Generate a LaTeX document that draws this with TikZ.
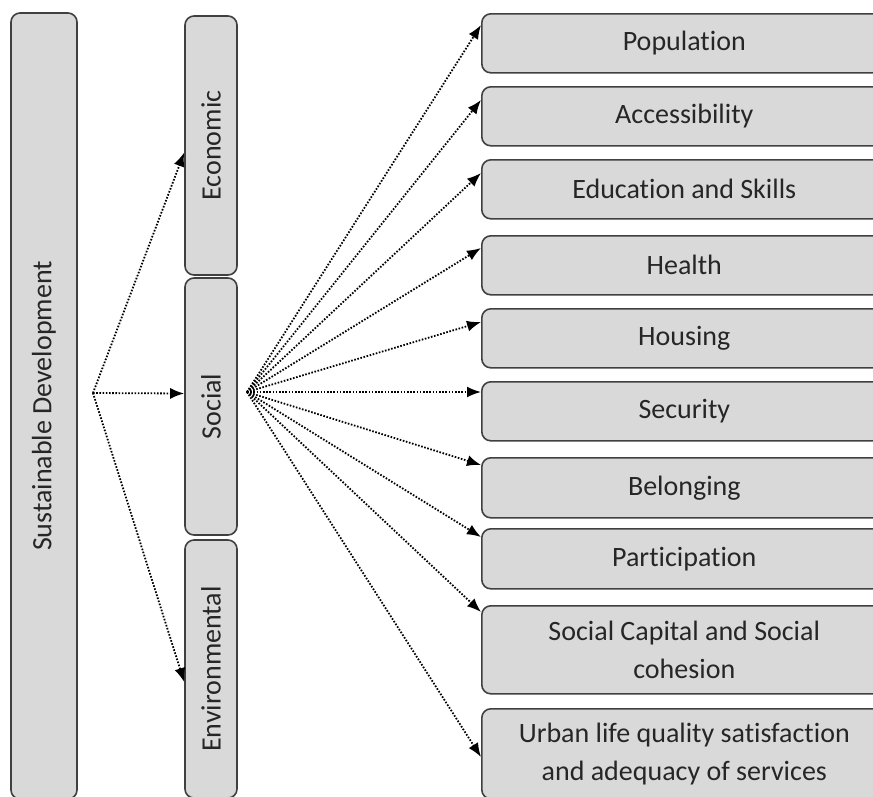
\documentclass[tikz,border=0pt]{standalone}
\usepackage{fontspec}
\setmainfont{Carlito}[Ligatures=NoCommon]
\usetikzlibrary{arrows.meta}
\tikzset{
  box/.style={draw=black!75, line width=1.6pt, fill=gray!30, rounded corners=9pt,
    text=black!85, font=\fontsize{28}{38}\selectfont, align=center, inner sep=0pt},
  vbox/.style={box, rotate=90, minimum height=52pt},
  rbox/.style={box, anchor=north west, minimum width=405pt, minimum height=59pt},
  link/.style={dash pattern=on 1.6pt off 1.6pt, line width=1.8pt, -{Latex[length=14pt,width=11pt]}},
}

\begin{document}
\begin{tikzpicture}[x=1pt,y=-1pt]
  \useasboundingbox (0,0) rectangle (873,796);
  \clip (0,0) rectangle (873,796);

  % left columns
  \node[vbox, minimum width=786pt, minimum height=66pt] (sd) at (44,406) {Sustainable Development};
  \node[vbox, minimum width=259pt] (eco) at (211,145.5) {Economic};
  \node[vbox, minimum width=257pt] (soc) at (211,406.5) {Social};
  \node[vbox, minimum width=258pt] (env) at (211,669) {Environmental};

  % social indicators
  \node[rbox] (pop) at (481,13) {Population};
  \node[rbox] (acc) at (481,86) {Accessibility};
  \node[rbox] (edu) at (481,159) {Education and Skills};
  \node[rbox] (hea) at (481,235) {Health};
  \node[rbox] (hou) at (481,308) {Housing};
  \node[rbox] (sec) at (481,381) {Security};
  \node[rbox, minimum height=60pt] (bel) at (481,457) {Belonging};
  \node[rbox, minimum height=60pt] (par) at (481,528) {Participation};
  \node[rbox, minimum height=88pt] (cap) at (481,605) {Social Capital and Social\\cohesion};
  \node[rbox, minimum height=90pt] (urb) at (481,708) {Urban life quality satisfaction\\and adequacy of services};

  \coordinate (sdout) at (93,393);
  \coordinate (socout) at (247,392);

  \draw[link] (sdout) -- ([yshift=-7pt]eco.north);
  \draw[link] (sdout) -- ([yshift=13pt]soc.north);
  \draw[link] (sdout) -- ([yshift=-13pt]env.north);

  \foreach \n/\d in {pop/12, acc/14, edu/14, hea/13, hou/14, sec/11, bel/8, par/9, cap/7, urb/49}
    \draw[link] (socout) -- ([yshift=-\d pt]\n.north west);
\end{tikzpicture}
\end{document}
